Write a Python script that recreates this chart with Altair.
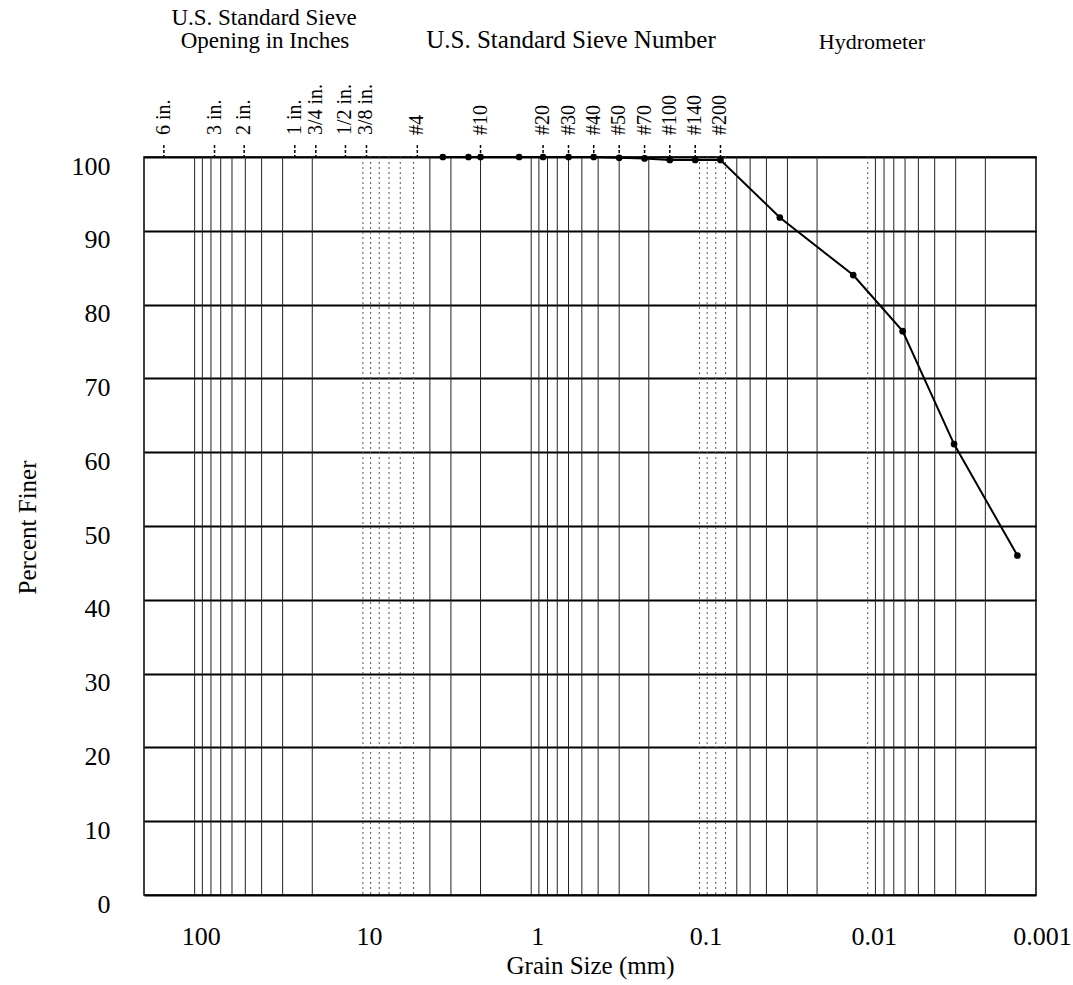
import altair as alt
import pandas as pd

# ---- data ----
grain_mm = [3.35, 2.36, 2.0, 1.18, 0.85, 0.6, 0.425, 0.3, 0.212, 0.15, 0.106, 0.075,
            0.0333, 0.0122, 0.0062, 0.00307, 0.00129]
percent_finer = [100, 100, 100, 100, 100, 100, 100, 99.9, 99.8, 99.6, 99.6, 99.6,
                 91.8, 84.0, 76.4, 61.1, 46.0]

sieve_labels = ["6 in.", "3 in.", "2 in.", "1 in.", "3/4 in.", "1/2 in.", "3/8 in.",
                "#4", "#10", "#20", "#30", "#40", "#50", "#70", "#100", "#140", "#200"]
sieve_mm = [152.4, 76.2, 50.8, 25.4, 19.05, 12.7, 9.525,
            4.75, 2.0, 0.85, 0.6, 0.425, 0.3, 0.212, 0.15, 0.106, 0.075]

x_ticks = [100, 10, 1, 0.1, 0.01, 0.001]
y_ticks = [0, 10, 20, 30, 40, 50, 60, 70, 80, 90, 100]

grid_solid = [100, 90, 80, 70, 60, 50, 40, 30, 20, 4, 3, 2,
              1, 0.9, 0.8, 0.7, 0.6, 0.5, 0.4, 0.3, 0.2,
              0.06, 0.05, 0.04, 0.03, 0.02,
              0.009, 0.008, 0.007, 0.006, 0.005, 0.004, 0.003, 0.002]
grid_dotted = [10, 9, 8, 7, 6, 5, 0.1, 0.09, 0.08, 0.07, 0.01]

FONT = "Liberation Serif"

curve = pd.DataFrame({"mm": grain_mm, "pct": percent_finer})
sieves = pd.DataFrame({"mm": sieve_mm, "label": sieve_labels})
gs = pd.DataFrame({"mm": grid_solid})
gd = pd.DataFrame({"mm": grid_dotted})

xs = alt.Scale(type="log", domain=[0.001, 200], reverse=True, nice=False, zero=False)
ys = alt.Scale(domain=[0, 100], nice=False, zero=False)

x_axis = alt.Axis(values=x_ticks, format="~g", title="Grain Size (mm)", grid=False,
                  ticks=False, tickSize=0, domain=False, labelFlush=False,
                  labelFont=FONT, labelFontSize=26, labelColor="black",
                  labelPadding=28, labelOffset=6,
                  titleFont=FONT, titleFontSize=25, titleFontWeight="normal",
                  titleColor="black", titlePadding=4)
y_axis = alt.Axis(values=y_ticks, title="Percent Finer", grid=True, gridColor="black",
                  gridWidth=2, gridOpacity=1, ticks=False, tickSize=0, domain=False,
                  labelFont=FONT, labelFontSize=26, labelColor="black",
                  labelPadding=34, labelOffset=9,
                  titleFont=FONT, titleFontSize=25, titleFontWeight="normal",
                  titleColor="black", titleX=-117, titleY=370,
                  titleAlign="center", titleBaseline="middle", titleAngle=270)

X = alt.X("mm:Q", scale=xs, axis=x_axis)
Y = alt.Y("pct:Q", scale=ys, axis=y_axis)

vsolid = alt.Chart(gs).mark_rule(color="#222", strokeWidth=1).encode(x=X)
vdot = alt.Chart(gd).mark_rule(color="#555", strokeWidth=1, strokeDash=[2, 3]).encode(x=X)

line = alt.Chart(curve).mark_line(color="black", strokeWidth=2).encode(x=X, y=Y)
pts = alt.Chart(curve).mark_point(filled=True, color="black", size=45, opacity=1).encode(x=X, y=Y)

sieve_ticks = alt.Chart(sieves).mark_rule(color="black", strokeWidth=1.5,
                                           strokeDash=[3, 2]).encode(
    x=X, y=alt.value(-12), y2=alt.value(0))
sieve_text = alt.Chart(sieves).mark_text(angle=270, align="left", baseline="middle",
                                          font=FONT, fontSize=20, color="black").encode(
    x=X, y=alt.value(-22), text="label:N")


def title_text(txt, x, y, size):
    return alt.Chart(pd.DataFrame({"t": [txt]})).mark_text(
        font=FONT, fontSize=size, color="black", align="center", baseline="alphabetic"
    ).encode(x=alt.value(x), y=alt.value(y), text="t:N")


titles = (title_text("U.S. Standard Sieve", 120, -132, 23)
          + title_text("Opening in Inches", 121, -109, 23)
          + title_text("U.S. Standard Sieve Number", 427, -109, 25)
          + title_text("Hydrometer", 728, -108, 22))

chart = alt.layer(vsolid, vdot, line, pts, sieve_ticks, sieve_text, titles).properties(
    width=892, height=738,
    autosize=alt.AutoSizeParams(type="none"),
    padding={"left": 144, "top": 157, "right": 37, "bottom": 90},
    background="white",
).configure_view(stroke="black", strokeWidth=1.5)

chart.save("out.html", embed_options={"renderer": "svg", "actions": False})
